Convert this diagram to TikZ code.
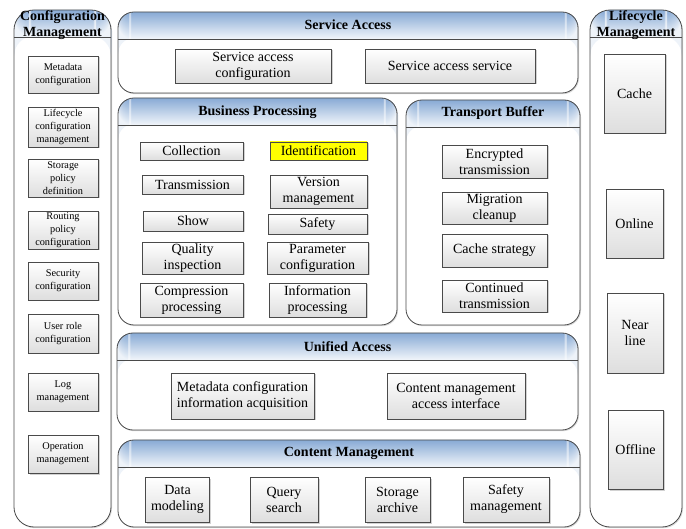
\documentclass[tikz,border=0pt]{standalone}
\usepackage{fontspec}
\setmainfont{Liberation Serif}
\newfontfamily\tnr{Liberation Serif}
\usetikzlibrary{shadows}
\definecolor{hdrtop}{HTML}{88AAD5}
\definecolor{hdrbot}{HTML}{EEF3F9}
\definecolor{edge}{HTML}{4A4A4A}
\definecolor{boxbot}{HTML}{DEDEDE}
\definecolor{hilite}{HTML}{FFFF00}
\tikzset{
  panel/.style={draw=edge, line width=0.8pt, rounded corners=#1, fill=white,
    drop shadow={shadow xshift=1pt, shadow yshift=-1.2pt, fill=gray!50, opacity=0.6},
    path picture={
      \foreach \i in {0,...,26}{
        \pgfmathsetmacro\pp{100-\i*100/26}
        \fill[hdrtop!\pp!hdrbot]
          ([yshift={-\i*1pt}]path picture bounding box.north west) rectangle
          ([yshift={-(\i+1.1)*1pt}]path picture bounding box.north east);
      }
      \draw[edge, line width=0.8pt] ([yshift=-27pt]path picture bounding box.north west) -- ([yshift=-27pt]path picture bounding box.north east);
    }},
  panel/.default=15pt,
  ttl/.style={font=\tnr\fontsize{14}{16}\selectfont\bfseries, align=center, inner sep=0pt},
  item/.style={draw=edge, line width=0.7pt, top color=white, bottom color=boxbot,
    drop shadow={shadow xshift=1.5pt, shadow yshift=-1.5pt, fill=gray!70},
    font=\tnr\fontsize{14}{16}\selectfont, align=center, inner sep=0pt},
  smallitem/.style={item, font=\tnr\fontsize{10.3}{13}\selectfont},
}
\begin{document}
\begin{tikzpicture}[x=1pt,y=-1pt]
\useasboundingbox (0,0) rectangle (686,529);

% ---------- panels ----------
\node[panel=20pt, minimum width=97pt, minimum height=517pt] (cfgp) at (62.5,268.5) {};
\node[panel=20pt, minimum width=92pt, minimum height=517pt] (lcp) at (636,268.5) {};
\node[panel=16pt, minimum width=460pt, minimum height=81pt] (sap) at (348,52.5) {};
\node[panel=16pt, minimum width=279pt, minimum height=227pt] (bpp) at (257.5,211.5) {};
\node[panel=16pt, minimum width=174pt, minimum height=225pt] (tbp) at (493,212.5) {};
\node[panel=16pt, minimum width=461pt, minimum height=97pt] (uap) at (347.5,381.5) {};
\node[panel=16pt, minimum width=462pt, minimum height=87pt] (cmp) at (349,483.5) {};

% ---------- titles ----------
\node[ttl] (cfgt) at (62.5,25) {Configuration\\Management};
\node[ttl] (lct) at (636,25) {Lifecycle\\Management};
\node[ttl] (sat) at (348,25) {Service Access};
\node[ttl] (bpt) at (257.5,112) {Business Processing};
\node[ttl] (tbt) at (493,113) {Transport Buffer};
\node[ttl] (uat) at (347.5,347) {Unified Access};
\node[ttl] (cmt) at (349,453) {Content Management};

% ---------- configuration management ----------
\node[smallitem, minimum width=70pt, minimum height=37pt] (c1) at (63,74.5) {Metadata\\configuration};
\node[smallitem, minimum width=70pt, minimum height=40pt] (c2) at (63,127) {Lifecycle\\configuration\\management};
\node[smallitem, minimum width=70pt, minimum height=38pt] (c3) at (63,178) {Storage\\policy\\definition};
\node[smallitem, minimum width=70pt, minimum height=38pt] (c4) at (63,230) {Routing\\policy\\configuration};
\node[smallitem, minimum width=70pt, minimum height=38pt] (c5) at (63,281) {Security\\configuration};
\node[smallitem, minimum width=70pt, minimum height=39pt] (c6) at (63,333.5) {User role\\configuration};
\node[smallitem, minimum width=70pt, minimum height=38pt] (c7) at (63,392) {Log\\management};
\node[smallitem, minimum width=70pt, minimum height=38pt] (c8) at (63,454) {Operation\\management};

% ---------- lifecycle management ----------
\node[item, minimum width=61pt, minimum height=79pt] (l1) at (634.5,93.5) {Cache};
\node[item, minimum width=57pt, minimum height=69pt] (l2) at (634.5,223.5) {Online};
\node[item, minimum width=56pt, minimum height=80pt] (l3) at (635,333) {Near\\line};
\node[item, minimum width=55pt, minimum height=79pt] (l4) at (635.5,449.5) {Offline};

% ---------- service access ----------
\node[item, minimum width=156pt, minimum height=34pt] (s1) at (253,66) {Service access\\configuration};
\node[item, minimum width=170pt, minimum height=34pt] (s2) at (450,66) {Service access service};

% ---------- business processing ----------
\node[item, minimum width=103pt, minimum height=18pt] (b1) at (191.5,151) {Collection};
\node[item, minimum width=97pt, minimum height=18pt, top color=hilite, bottom color=hilite] (b2) at (318.5,151) {Identification};
\node[item, minimum width=101pt, minimum height=19pt] (b3) at (192.5,184.5) {Transmission};
\node[item, minimum width=97pt, minimum height=33pt] (b4) at (318.5,191.5) {Version\\management};
\node[item, minimum width=100pt, minimum height=20pt] (b5) at (193,221) {Show};
\node[item, minimum width=99pt, minimum height=20pt] (b6) at (317.5,224) {Safety};
\node[item, minimum width=101pt, minimum height=32pt] (b7) at (192.5,258) {Quality\\inspection};
\node[item, minimum width=101pt, minimum height=32pt] (b8) at (317.5,258) {Parameter\\configuration};
\node[item, minimum width=103pt, minimum height=34pt] (b9) at (191.5,300) {Compression\\processing};
\node[item, minimum width=97pt, minimum height=34pt] (b10) at (317.5,300) {Information\\processing};

% ---------- transport buffer ----------
\node[item, minimum width=105pt, minimum height=33pt] (t1) at (494.5,161.5) {Encrypted\\transmission};
\node[item, minimum width=105pt, minimum height=32pt] (t2) at (494.5,208) {Migration\\cleanup};
\node[item, minimum width=105pt, minimum height=33pt] (t3) at (494.5,250.5) {Cache strategy};
\node[item, minimum width=105pt, minimum height=32pt] (t4) at (494.5,296) {Continued\\transmission};

% ---------- unified access ----------
\node[item, minimum width=143pt, minimum height=46pt] (u1) at (242.5,396) {Metadata configuration\\information acquisition};
\node[item, minimum width=138pt, minimum height=46pt] (u2) at (456,396) {Content management\\access interface};

% ---------- content management ----------
\node[item, minimum width=64pt, minimum height=45pt] (m1) at (177.5,499.5) {Data\\modeling};
\node[item, minimum width=68pt, minimum height=45pt] (m2) at (284,499.5) {Query\\search};
\node[item, minimum width=65pt, minimum height=45pt] (m3) at (397.5,499.5) {Storage\\archive};
\node[item, minimum width=86pt, minimum height=45pt] (m4) at (506,499.5) {Safety\\management};
\end{tikzpicture}
\end{document}
